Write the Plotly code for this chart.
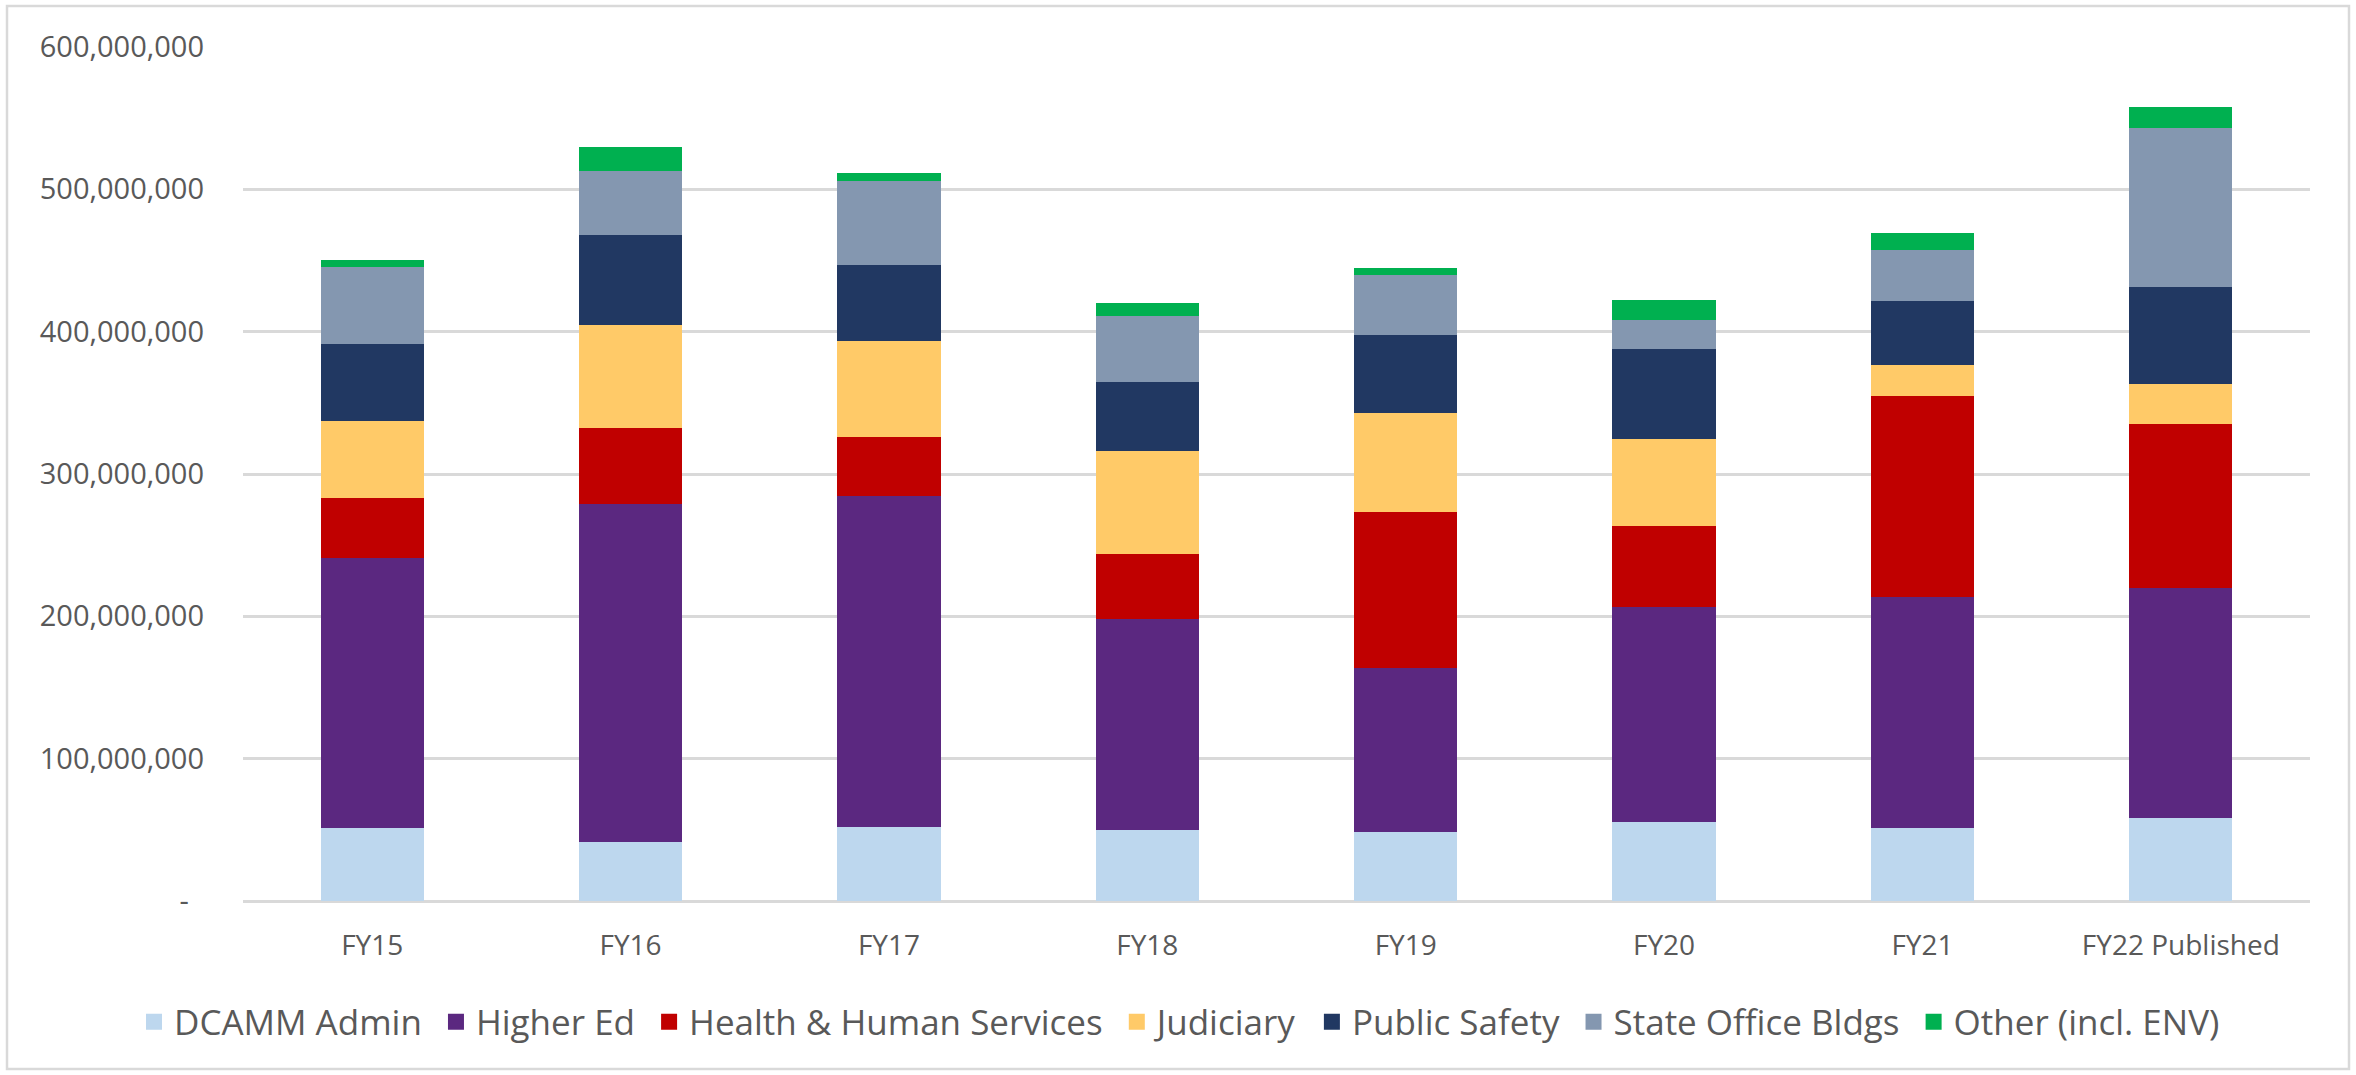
import plotly.graph_objects as go

categories = ["FY15", "FY16", "FY17", "FY18", "FY19", "FY20", "FY21", "FY22 Published"]

dcamm_admin = [51_100_000, 41_300_000, 52_300_000, 49_800_000, 48_500_000, 55_700_000, 51_100_000, 58_300_000]
higher_ed = [189_800_000, 237_900_000, 231_900_000, 148_100_000, 115_300_000, 150_600_000, 162_600_000, 161_300_000]
health_human = [42_100_000, 53_200_000, 42_100_000, 46_000_000, 109_400_000, 57_000_000, 140_900_000, 115_300_000]
judiciary = [54_000_000, 72_300_000, 67_200_000, 72_300_000, 69_800_000, 61_300_000, 22_100_000, 28_100_000]
public_safety = [54_500_000, 63_400_000, 53_200_000, 48_100_000, 54_500_000, 63_000_000, 44_700_000, 68_100_000]
state_office = [54_000_000, 45_100_000, 59_100_000, 46_800_000, 42_100_000, 20_900_000, 35_700_000, 111_900_000]
other = [5_100_000, 16_200_000, 6_000_000, 8_900_000, 5_100_000, 13_600_000, 11_900_000, 14_900_000]

series_names = ["DCAMM Admin", "Higher Ed", "Health & Human Services", "Judiciary",
                "Public Safety", "State Office Bldgs", "Other (incl. ENV)"]
series_values = [dcamm_admin, higher_ed, health_human, judiciary, public_safety, state_office, other]
series_colors = ["#BDD7EE", "#5B2880", "#C00000", "#FFCA68", "#213862", "#8497B0", "#00B050"]

y_tickvals = [0, 100_000_000, 200_000_000, 300_000_000, 400_000_000, 500_000_000, 600_000_000]
y_ticktext = ["-\u00a0\u00a0", "100,000,000", "200,000,000", "300,000,000",
              "400,000,000", "500,000,000", "600,000,000"]

W, H = 2356, 1075
L, R, T, B = 243, 2310, 47, 901

fig = go.Figure()
for name, vals, col in zip(series_names, series_values, series_colors):
    fig.add_trace(go.Bar(x=categories, y=vals, name=name, marker_color=col,
                         marker_line_width=0, showlegend=False))
for name, col in zip(series_names, series_colors):
    fig.add_trace(go.Scatter(x=[None], y=[None], mode="markers", name=name + "\u00a0",
                             marker=dict(symbol="square", size=22, color=col),
                             showlegend=True, hoverinfo="skip"))

pw, ph = R - L, B - T
def px(x):
    return (x - L) / pw
def py(y):
    return (B - y) / ph

fig.add_shape(type="rect", xref="paper", yref="paper",
              x0=px(7), x1=px(2349), y0=py(1069), y1=py(6),
              line=dict(color="#D9D9D9", width=2.5), fillcolor="rgba(0,0,0,0)", layer="below")

fig.update_layout(
    width=W, height=H,
    barmode="stack", bargap=0.6,
    margin=dict(l=L, r=W - R, t=T, b=H - B, pad=0, autoexpand=False),
    paper_bgcolor="white", plot_bgcolor="white",
    font=dict(family="Open Sans", color="#595959"),
    showlegend=True,
    legend=dict(orientation="h", x=px(134), xanchor="left", y=py(1022), yanchor="middle",
                font=dict(size=35, color="#595959", family="Open Sans"),
                traceorder="normal", itemsizing="trace", bgcolor="rgba(0,0,0,0)"),
    xaxis=dict(type="category", showgrid=False, showline=False, ticks="",
               tickfont=dict(size=28, color="#595959"), ticklabelstandoff=25),
    yaxis=dict(range=[0, 600_000_000], tickvals=y_tickvals, ticktext=y_ticktext,
               showgrid=True, gridcolor="#D9D9D9", gridwidth=2.5,
               zeroline=True, zerolinecolor="#D9D9D9", zerolinewidth=2.5,
               showline=False, ticks="", tickfont=dict(size=29, color="#595959"),
               ticklabelstandoff=38),
)

fig.write_html("out.html", config={"displayModeBar": False},
               post_script="document.body.style.margin='0';")
